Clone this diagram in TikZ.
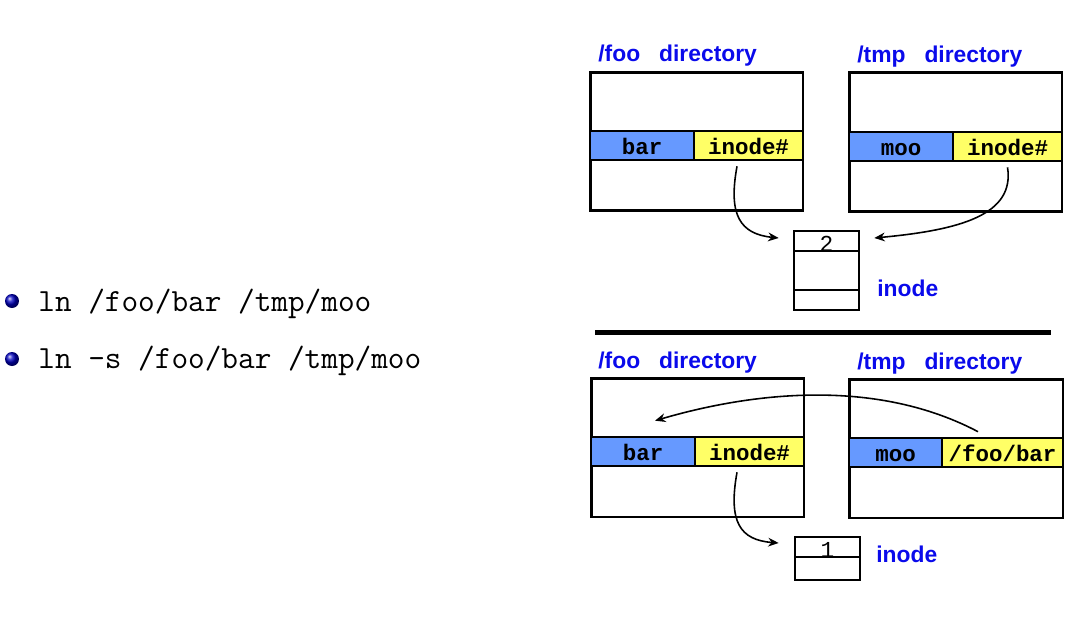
\documentclass[tikz,border=0pt]{standalone}
\usepackage{fontspec}
\newfontfamily\hvfont{Liberation Sans}
\newfontfamily\courfont{Liberation Mono}
\usetikzlibrary{arrows.meta}
\definecolor{cellblue}{RGB}{102,153,255}
\definecolor{cellyellow}{RGB}{255,255,102}
\definecolor{dirblue}{RGB}{10,10,235}

\tikzset{
  dirbox/.style={draw, line width=1.7pt, minimum width=4.26cm, minimum height=2.78cm, inner sep=0pt},
  cell/.style={draw, line width=1.5pt, minimum height=0.58cm, inner sep=0pt,
    text height=0.36cm, text depth=0pt,
    font=\courfont\bfseries\fontsize{12.8}{14}\selectfont},
  namecell/.style={cell, fill=cellblue},
  numcell/.style={cell, fill=cellyellow},
  inobox/.style={draw, line width=1.5pt, minimum width=1.3cm, inner sep=0pt,
    text height=0.4cm, text depth=0pt,
    font=\courfont\fontsize{13}{14}\selectfont},
  dirlbl/.style={anchor=base west, text=dirblue, inner sep=0pt,
    font=\hvfont\bfseries\fontsize{13}{15}\selectfont},
  item/.style={anchor=base west, inner sep=0pt, font=\fontsize{18.4}{20}\selectfont\ttfamily},
  dot/.style={circle, ball color=blue!75!black, minimum size=0.28cm, inner sep=0pt},
  link/.style={line width=0.9pt, -{Stealth[length=6pt,width=5pt]}}
}

\begin{document}
\begin{tikzpicture}[x=0.02cm, y=-0.02cm]
    \useasboundingbox (0,0) rectangle (1087,625);

    % the two commands
    \node[dot] (b1) at (12,301) {};
    \node[dot] (b2) at (12,359) {};
    \node[item] (hard) at (38,311) {ln /foo/bar /tmp/moo};
    \node[item] (soft) at (38,368) {ln -s /foo/bar /tmp/moo};

    % hard link
    \node[dirlbl] (lfoo1) at (598,62) {/foo\hspace{0.83em}directory};
    \node[dirlbl] (ltmp1) at (857,63) {/tmp\hspace{0.83em}directory};
    \node[dirbox] (foo1) at (696.5,141.5) {};
    \node[dirbox] (tmp1) at (955.5,142) {};
    \node[namecell, minimum width=2.08cm] (bar1) at (642,145.5) {bar};
    \node[numcell, minimum width=2.18cm] (ino1) at (748.5,145.5) {inode\#};
    \node[namecell, minimum width=2.08cm] (moo1) at (901,146.5) {moo};
    \node[numcell, minimum width=2.18cm] (ino2) at (1007.5,146.5) {inode\#};

    \node[inobox, minimum height=0.4cm] (cnt1) at (826.5,241) {2};
    \node[inobox, minimum height=0.78cm] (blk1) at (826.5,270.5) {};
    \node[inobox, minimum height=0.4cm] (end1) at (826.5,300) {};
    \node[dirlbl] (lino1) at (877,296) {inode};

    \draw[link] ([xshift=-0.23cm, yshift=-0.1cm]ino1.south) .. controls (728,215) and (740,234) .. ([xshift=-0.28cm, yshift=0.06cm]cnt1.west);
    \draw[link] ([yshift=-0.1cm]ino2.south) .. controls (1015,215) and (960,230) .. ([xshift=0.28cm, yshift=0.06cm]cnt1.east);

    \draw[line width=2.8pt] (595,332.5) -- (1051,332.5);

    % symbolic link
    \node[dirlbl] (lfoo2) at (598,368) {/foo\hspace{0.83em}directory};
    \node[dirlbl] (ltmp2) at (857,369) {/tmp\hspace{0.83em}directory};
    \node[dirbox] (foo2) at (697.5,447.5) {};
    \node[dirbox, minimum width=4.28cm] (tmp2) at (956,448.5) {};
    \node[namecell, minimum width=2.08cm] (bar2) at (643,451.5) {bar};
    \node[numcell, minimum width=2.18cm] (ino3) at (749.5,451.5) {inode\#};
    \node[namecell, minimum width=1.86cm] (moo2) at (895.5,452.5) {moo};
    \node[numcell, minimum width=2.42cm] (path2) at (1002.5,452.5) {/foo/bar};

    \node[inobox, minimum height=0.4cm] (cnt2) at (827.5,547) {1};
    \node[inobox, minimum height=0.46cm] (blk2) at (827.5,568.5) {};
    \node[dirlbl] (lino2) at (876,562) {inode};

    \draw[link] ([xshift=-0.25cm, yshift=-0.1cm]ino3.south) .. controls (728,522) and (740,540) .. ([xshift=-0.3cm, yshift=0.08cm]cnt2.west);
    \draw[link] ([xshift=-0.49cm, yshift=0.1cm]path2.north) .. controls (880,380) and (760,390) .. ([xshift=0.24cm, yshift=0.3cm]bar2.north);
\end{tikzpicture}
\end{document}
